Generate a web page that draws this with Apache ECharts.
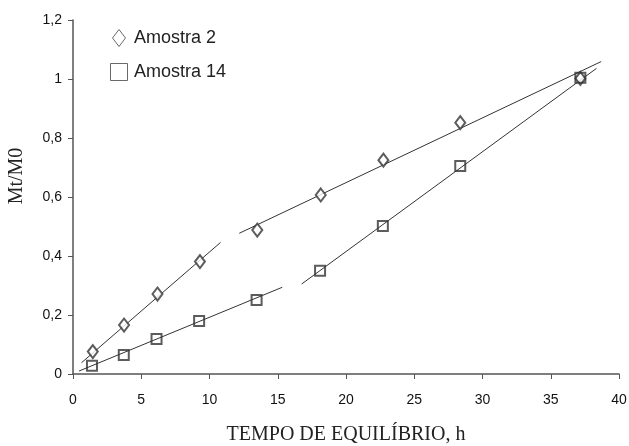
<!DOCTYPE html>
<html><head><meta charset="utf-8">
<script src="https://cdn.jsdelivr.net/npm/echarts@6/dist/echarts.min.js"></script>
<style>html,body{margin:0;padding:0;background:#fff}#c{width:629px;height:446px}</style>
</head><body><div id="c"></div>
<script>
const xA2 = [1.45, 3.74, 6.19, 9.30, 13.5, 18.15, 22.74, 28.37, 37.17];
const yA2 = [0.076, 0.166, 0.271, 0.381, 0.488, 0.607, 0.725, 0.852, 1.002];
const xA14 = [1.39, 3.72, 6.12, 9.24, 13.45, 18.1, 22.7, 28.37, 37.17];
const yA14 = [0.028, 0.064, 0.119, 0.180, 0.251, 0.350, 0.502, 0.705, 1.004];
// fitted line segments: [x, y] endpoints
const fitA2a = [[0.62, 0.038], [10.81, 0.446]];
const fitA2b = [[12.18, 0.477], [38.69, 1.059]];
const fitA14a = [[0.44, 0.010], [15.33, 0.294]];
const fitA14b = [[16.75, 0.305], [38.35, 1.036]];
const xTicks = [0, 5, 10, 15, 20, 25, 30, 35, 40];
const yTicks = [0, 0.2, 0.4, 0.6, 0.8, 1, 1.2];
const seriesNames = ['Amostra 2', 'Amostra 14'];

const axisCol = '#555';
const markCol = '#333';
const chart = echarts.init(document.getElementById('c'));
const pts = (xs, ys) => xs.map((x, i) => [x, ys[i]]);
const fmt = v => String(Math.round(v * 10) / 10).replace('.', ',');
const lineSeries = d => ({type: 'line', data: d, symbol: 'none', silent: true,
  lineStyle: {color: '#333', width: 1}, z: 1});
const legendItem = (name, icon) => ({name, icon,
  itemStyle: {color: '#fff', borderColor: '#444', borderWidth: 1}});
chart.setOption({
  animation: false,
  grid: {left: 73, right: 10, top: 20, bottom: 72, containLabel: false, outerBoundsMode: 'none'},
  legend: {
    orient: 'vertical', left: 110, top: 29, itemGap: 16, padding: 0,
    itemWidth: 20, itemHeight: 17, symbolKeepAspect: true,
    data: [legendItem(seriesNames[0], 'path://M6.5,0L13,8.5L6.5,17L0,8.5Z'),
           legendItem(seriesNames[1], 'path://M0,0L13,0L13,13L0,13Z')],
    textStyle: {fontFamily: 'Liberation Sans, Arial', fontSize: 18, color: '#222'}
  },
  xAxis: {
    type: 'value', min: xTicks[0], max: xTicks[xTicks.length - 1], interval: xTicks[1] - xTicks[0],
    name: 'TEMPO DE EQUILÍBRIO, h', nameLocation: 'middle', nameGap: 51,
    nameTextStyle: {fontFamily: 'Liberation Serif, Times New Roman', fontSize: 20, color: '#222'},
    axisLine: {lineStyle: {color: axisCol, width: 1.5}},
    axisTick: {show: true, length: 5, lineStyle: {color: axisCol}},
    axisLabel: {fontFamily: 'Liberation Sans, Arial', fontSize: 14, color: '#111', margin: 19},
    splitLine: {show: false}
  },
  yAxis: {
    type: 'value', min: yTicks[0], max: yTicks[yTicks.length - 1], interval: 0.2,
    name: 'Mt/M0', nameLocation: 'middle', nameGap: 46, nameRotate: 90,
    nameTextStyle: {fontFamily: 'Liberation Serif, Times New Roman', fontSize: 20, color: '#222',
      padding: [0, 0, 0, 42]},
    axisLine: {show: true, lineStyle: {color: axisCol, width: 1.5}},
    axisTick: {show: true, length: 5, lineStyle: {color: axisCol}},
    axisLabel: {fontFamily: 'Liberation Sans, Arial', fontSize: 14, color: '#111', margin: 11, formatter: fmt},
    splitLine: {show: false}
  },
  series: [
    {name: seriesNames[0], type: 'scatter', data: pts(xA2, yA2), symbol: 'diamond', symbolSize: [10, 13],
     itemStyle: {color: '#fff', borderColor: markCol, borderWidth: 2}, z: 3},
    {name: seriesNames[1], type: 'scatter', data: pts(xA14, yA14), symbol: 'rect', symbolSize: 10,
     itemStyle: {color: 'rgba(255,255,255,0)', borderColor: markCol, borderWidth: 2}, z: 3},
    lineSeries(fitA2a), lineSeries(fitA2b), lineSeries(fitA14a), lineSeries(fitA14b)
  ]
});
</script></body></html>
